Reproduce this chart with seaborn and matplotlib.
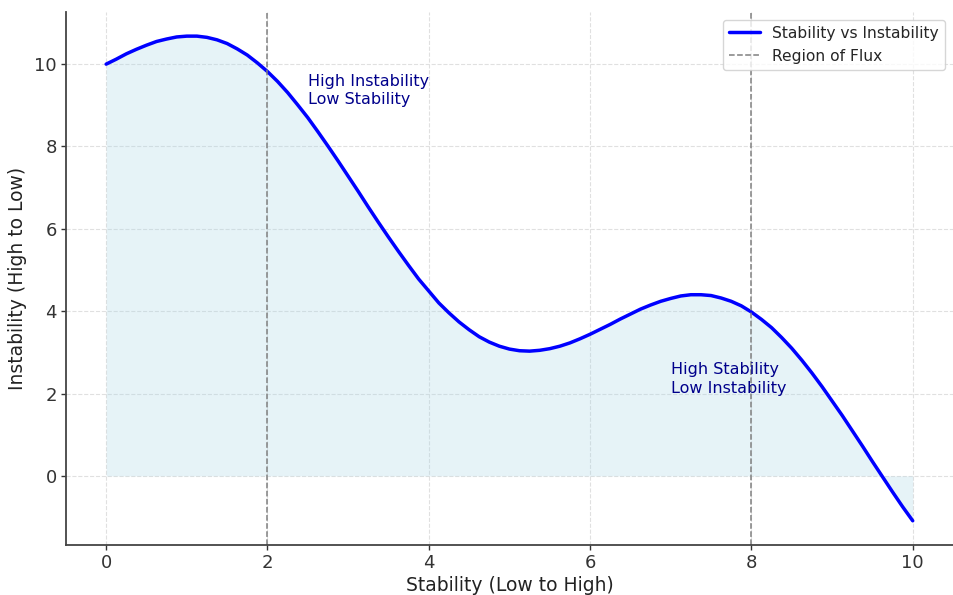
import matplotlib
matplotlib.use("Agg")
import matplotlib.pyplot as plt
import seaborn as sns
import pandas as pd

# Values
stability = [0.0, 0.125, 0.25, 0.375, 0.5, 0.625, 0.75, 0.875, 1.0, 1.125, 1.25, 1.375,
             1.5, 1.625, 1.75, 1.875, 2.0, 2.125, 2.25, 2.375, 2.5, 2.625, 2.75, 2.875,
             3.0, 3.125, 3.25, 3.375, 3.5, 3.625, 3.75, 3.875, 4.0, 4.125, 4.25, 4.375,
             4.5, 4.625, 4.75, 4.875, 5.0, 5.125, 5.25, 5.375, 5.5, 5.625, 5.75, 5.875,
             6.0, 6.125, 6.25, 6.375, 6.5, 6.625, 6.75, 6.875, 7.0, 7.125, 7.25, 7.375,
             7.5, 7.625, 7.75, 7.875, 8.0, 8.125, 8.25, 8.375, 8.5, 8.625, 8.75, 8.875,
             9.0, 9.125, 9.25, 9.375, 9.5, 9.625, 9.75, 9.875, 10.0]
instability = [10.00, 10.12, 10.25, 10.36, 10.46, 10.55, 10.61, 10.66, 10.68, 10.68, 10.65, 10.59,
               10.50, 10.37, 10.22, 10.03, 9.82, 9.58, 9.31, 9.01, 8.70, 8.36, 8.01, 7.65,
               7.28, 6.91, 6.53, 6.16, 5.80, 5.45, 5.11, 4.78, 4.49, 4.20, 3.96, 3.74,
               3.55, 3.38, 3.25, 3.15, 3.08, 3.04, 3.03, 3.05, 3.09, 3.15, 3.23, 3.33,
               3.44, 3.56, 3.68, 3.81, 3.93, 4.05, 4.15, 4.24, 4.31, 4.37, 4.40, 4.40,
               4.38, 4.32, 4.24, 4.13, 3.98, 3.80, 3.60, 3.36, 3.10, 2.81, 2.50, 2.17,
               1.82, 1.47, 1.10, 0.73, 0.35, -0.02, -0.39, -0.75, -1.09]
flux_lines = [2, 8]
x_ticks = [0, 2, 4, 6, 8, 10]
y_ticks = [0, 2, 4, 6, 8, 10]

df = pd.DataFrame({"Stability": stability, "Instability": instability})

sns.set_style("whitegrid", {
    "grid.linestyle": "--",
    "grid.color": "#e6e6e6",
    "axes.edgecolor": "#444444",
    "xtick.bottom": True,
    "ytick.left": True,
    "xtick.color": "#444444",
    "ytick.color": "#444444",
})
plt.rcParams["font.family"] = ["DejaVu Sans"]

fig, ax = plt.subplots(figsize=(9.54, 5.95), dpi=100)
fig.subplots_adjust(left=0.069, right=0.999, top=0.98, bottom=0.084)

ax.fill_between(df["Stability"], df["Instability"], color="lightblue", alpha=0.3, linewidth=0)
sns.lineplot(data=df, x="Stability", y="Instability", ax=ax, color="blue",
             linewidth=2.5, label="Stability vs Instability")
for i, xv in enumerate(flux_lines):
    ax.axvline(xv, color="gray", linestyle="--", linewidth=1.1,
               label="Region of Flux" if i == 0 else None)

ax.text(2.5, 8.95, "High Instability\nLow Stability", color="darkblue", fontsize=11.5,
        va="bottom", ha="left", linespacing=1.3)
ax.text(7.0, 1.95, "High Stability\nLow Instability", color="darkblue", fontsize=11.5,
        va="bottom", ha="left", linespacing=1.3)

ax.set_xticks(x_ticks)
ax.set_yticks(y_ticks)
ax.tick_params(labelsize=13, colors="#333333", length=3.5, width=1, pad=3)
ax.set_xlabel("Stability (Low to High)", fontsize=13.5, color="#222222", labelpad=3)
ax.set_ylabel("Instability (High to Low)", fontsize=13.5, color="#222222", labelpad=5)
ax.grid(True, linestyle="--", color="#e0e0e0", linewidth=0.8)
sns.despine(ax=ax)
for s in ["left", "bottom"]:
    ax.spines[s].set_linewidth(1.3)
    ax.spines[s].set_color("#444444")

leg = ax.legend(loc="upper right", fontsize=11.2, frameon=True)
leg.get_frame().set_edgecolor("#cccccc")

fig.savefig("out.png", dpi=100)
